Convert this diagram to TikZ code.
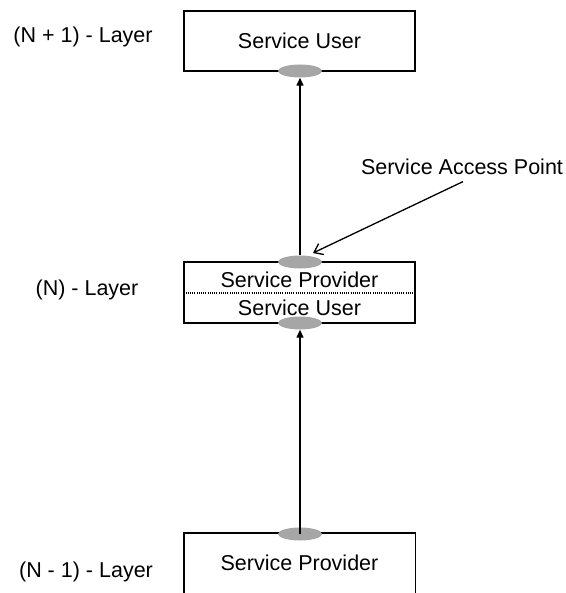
\documentclass[tikz,border=0pt]{standalone}
\usepackage{fontspec}
\setmainfont{Liberation Sans}
\usetikzlibrary{arrows.meta,shapes.geometric}
\definecolor{sapgray}{RGB}{166,166,166}
\begin{document}
\begin{tikzpicture}[x=1pt,y=-1pt,
  txt/.style={font=\fontsize{21.5}{26}\selectfont, inner sep=0pt},
  layerbox/.style={draw, line width=1.3pt, minimum width=231pt, minimum height=60pt, inner sep=0pt},
  sapoint/.style={ellipse, fill=sapgray, minimum width=44pt, minimum height=13pt, inner sep=0pt},
  arr/.style={line width=1.3pt, -{Triangle[width=7pt,length=8pt]}},
  barb/.style={line width=1.3pt, -{Straight Barb[width=12pt,length=8pt]}}]
\useasboundingbox (0,0) rectangle (565,593);
% top box
\node[layerbox] (top) at (299.5,41) {};
\node[txt] (tuser) at (299.5,41) {Service User};
% middle box
\node[layerbox, minimum height=61pt] (mid) at (299.5,292.5) {};
\draw[line width=1.1pt, dash pattern=on 1.1pt off 1.1pt] (mid.west |- 0,293) -- (mid.east |- 0,293);
\node[txt] (mprov) at (299.5,279.5) {Service Provider};
\node[txt] (muser) at (299.5,307.5) {Service User};
% bottom box (open at bottom)
\coordinate (bl) at (184,593);
\coordinate (br) at (415.5,593);
\draw[line width=1.3pt] (bl) -- (184,533) -- (415.5,533) -- (br);
\node[txt] (bprov) at (299.5,563) {Service Provider};
% access points
\node[sapoint] (e1) at (300,71) {};
\node[sapoint] (e2) at (300,262) {};
\node[sapoint] (e3) at (300,323) {};
\node[sapoint] (e4) at (300,534) {};
% arrows
\draw[arr] (e4.center) -- (e3.south);
\draw[arr] (e2.north) -- (e1.south);
% label
\node[txt] (sap) at (462,166.5) {Service Access Point};
\draw[barb] ([shift={(1pt,-7pt)}]sap.south) -- ([shift={(13pt,9pt)}]e2.center);
% layer labels
\node[txt] (l1) at (83,37) {(N + 1) - Layer};
\node[txt] (l2) at (87,290) {(N) - Layer};
\node[txt] (l3) at (86,572) {(N - 1) - Layer};
\end{tikzpicture}
\end{document}
